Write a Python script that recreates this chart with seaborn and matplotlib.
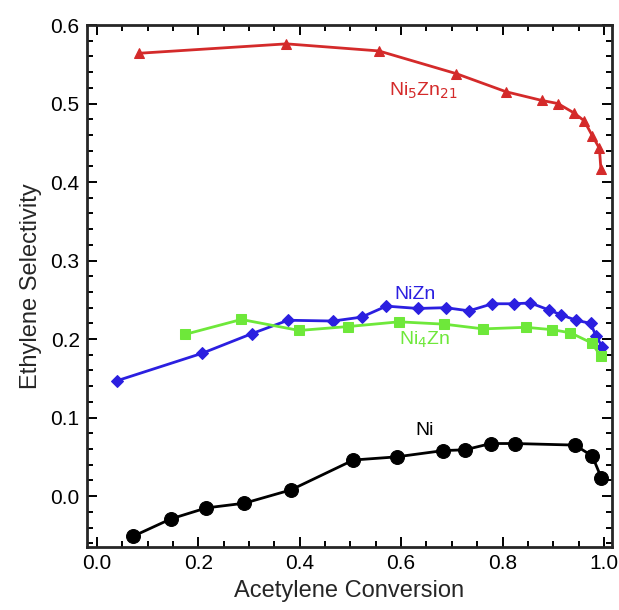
import pandas as pd
import matplotlib.pyplot as plt
import seaborn as sns
from matplotlib.ticker import MultipleLocator

# --- DATA ---
ni5zn21_x = [0.083, 0.374, 0.556, 0.709, 0.807, 0.877, 0.909, 0.941, 0.961, 0.977, 0.991, 0.994]
ni5zn21_y = [0.564, 0.576, 0.567, 0.538, 0.515, 0.504, 0.500, 0.488, 0.478, 0.459, 0.443, 0.416]

nizn_x = [0.040, 0.208, 0.306, 0.377, 0.466, 0.522, 0.571, 0.633, 0.688, 0.734,
          0.780, 0.823, 0.855, 0.892, 0.915, 0.945, 0.974, 0.984, 0.997]
nizn_y = [0.147, 0.182, 0.207, 0.224, 0.223, 0.228, 0.242, 0.239, 0.240, 0.236,
          0.245, 0.245, 0.246, 0.237, 0.231, 0.224, 0.220, 0.204, 0.190]

ni4zn_x = [0.174, 0.285, 0.399, 0.496, 0.596, 0.685, 0.762, 0.846, 0.898, 0.934, 0.976, 0.994]
ni4zn_y = [0.206, 0.225, 0.211, 0.216, 0.222, 0.219, 0.213, 0.215, 0.212, 0.208, 0.195, 0.178]

ni_x = [0.072, 0.146, 0.216, 0.291, 0.383, 0.506, 0.591, 0.683, 0.726, 0.777,
        0.824, 0.943, 0.977, 0.995]
ni_y = [-0.051, -0.029, -0.015, -0.009, 0.008, 0.046, 0.050, 0.058, 0.059, 0.067,
        0.067, 0.065, 0.051, 0.023]

series = [
    # name, x, y, color, marker, marker size, label text, label position
    ("Ni5Zn21", ni5zn21_x, ni5zn21_y, "#d42a2a", "^", 7, r"Ni$_5$Zn$_{21}$", (0.645, 0.516)),
    ("NiZn", nizn_x, nizn_y, "#2b1fe0", "D", 6, "NiZn", (0.627, 0.257)),
    ("Ni4Zn", ni4zn_x, ni4zn_y, "#6ee83a", "s", 7, r"Ni$_4$Zn", (0.647, 0.199)),
    ("Ni", ni_x, ni_y, "black", "o", 10, "Ni", (0.647, 0.083)),
]

# --- FIGURE ---
sns.set_style("ticks")
plt.rcParams['font.family'] = ['Liberation Sans', 'DejaVu Sans']

fig = plt.figure(figsize=(6.19, 6.10), dpi=100)
ax = fig.add_axes([0.140, 0.103, 0.848, 0.856])

for name, xs, ys, color, marker, ms, label, pos in series:
    df = pd.DataFrame({"conv": xs, "sel": ys})
    sns.lineplot(data=df, x="conv", y="sel", sort=False, color=color,
                 marker=marker, markersize=ms, markeredgecolor=color,
                 linewidth=2.0, ax=ax)
    ax.text(pos[0], pos[1], label, color=color, fontsize=14,
            ha="center", va="center")

ax.set_xlim(-0.02, 1.015)
ax.set_ylim(-0.065, 0.6)
ax.xaxis.set_major_locator(MultipleLocator(0.2))
ax.xaxis.set_minor_locator(MultipleLocator(0.05))
ax.yaxis.set_major_locator(MultipleLocator(0.1))
ax.yaxis.set_minor_locator(MultipleLocator(0.02))
ax.xaxis.set_major_formatter(plt.FormatStrFormatter("%.1f"))
ax.yaxis.set_major_formatter(plt.FormatStrFormatter("%.1f"))

ax.tick_params(which="both", direction="in", top=True, right=True,
               labelsize=15, width=1.4, colors="black")
ax.tick_params(which="major", length=7, pad=5)
ax.tick_params(which="minor", length=4)
for side in ax.spines.values():
    side.set_linewidth(2)

ax.set_xlabel("Acetylene Conversion", fontsize=17, labelpad=5)
ax.set_ylabel("Ethylene Selectivity", fontsize=17, labelpad=6)

plt.savefig("out.png", dpi=100)
plt.close()
